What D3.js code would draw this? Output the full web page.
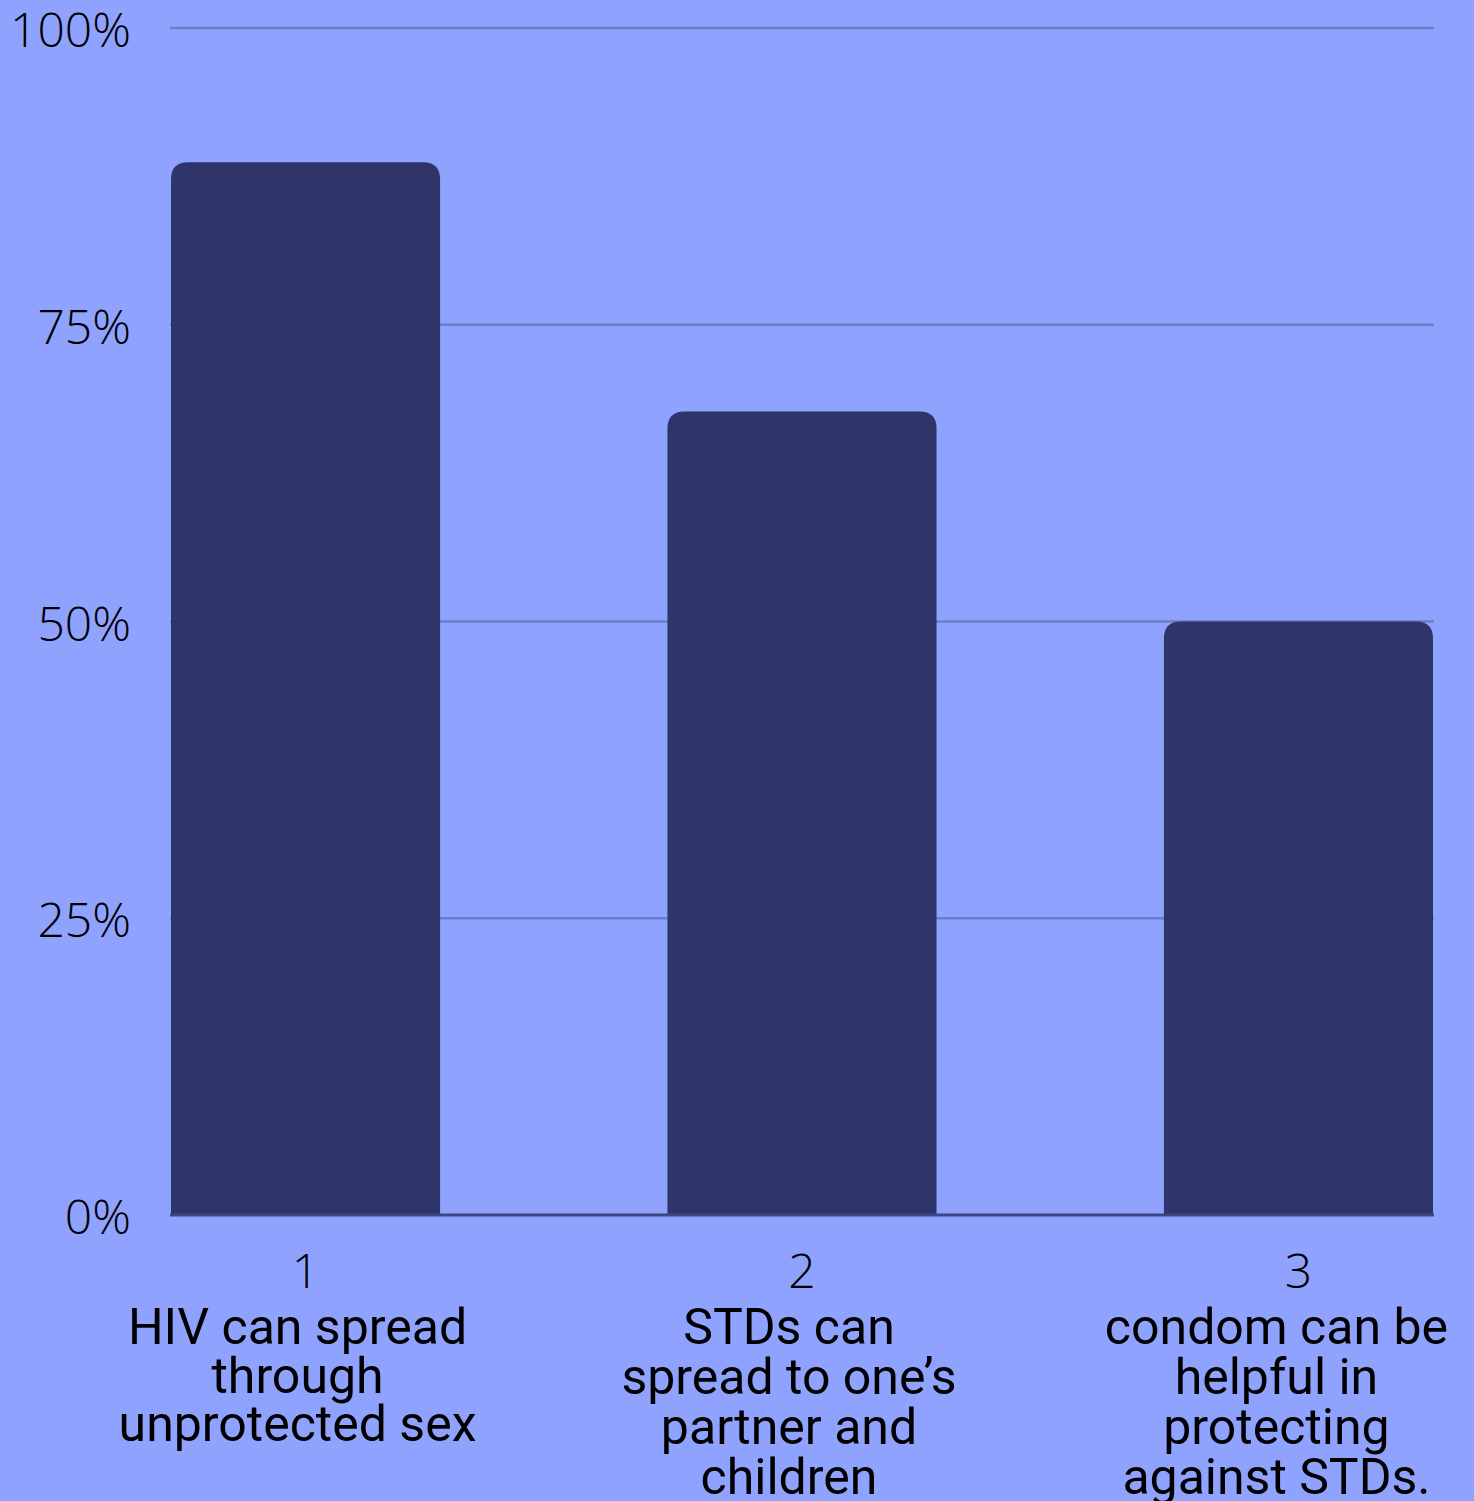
<!DOCTYPE html>
<html>
<head>
<meta charset="utf-8">
<script src="https://cdn.jsdelivr.net/npm/d3@7"></script>
<style>
  html, body { margin: 0; padding: 0; background: #8FA3FE; }
  svg { display: block; }
</style>
</head>
<body>
<svg id="chart" width="1474" height="1501"></svg>
<script>
// ---- data ----
const categories = ["1", "2", "3"];
const values = [88.7, 67.7, 50];
const labels = [
  ["HIV can spread", "through", "unprotected sex"],
  ["STDs can", "spread to one\u2019s", "partner and", "children"],
  ["condom can be", "helpful in", "protecting", "against STDs."]
];
const tickValues = [0, 25, 50, 75, 100];
const tickLabels = ["0%", "25%", "50%", "75%", "100%"];

// ---- layout / style ----
const W = 1474, H = 1501;
const plot = { left: 171, right: 1433, top: 28, bottom: 1215 };
const labelShift = [-8, -13, -22];
const colors = { bg: "#8FA3FE", bar: "#2F3469", grid: "#6E7EC6", axis: "#3C4680", text: "#000000" };

const svg = d3.select("#chart");
svg.append("rect").attr("width", W).attr("height", H).attr("fill", colors.bg);

const x = d3.scaleBand().domain(categories).range([plot.left, plot.right])
  .paddingInner(0.458).paddingOuter(0);
const y = d3.scaleLinear().domain([0, 100]).range([plot.bottom, plot.top]);

// gridlines
svg.append("g").selectAll("line").data(tickValues.filter(v => v > 0)).join("line")
  .attr("x1", plot.left - 1).attr("x2", 1434)
  .attr("y1", d => y(d)).attr("y2", d => y(d))
  .attr("stroke", colors.grid).attr("stroke-width", 2.5);

// y tick labels
svg.append("g").selectAll("text").data(tickValues).join("text")
  .attr("x", 131).attr("y", d => y(d))
  .attr("dy", "0.4em")
  .attr("text-anchor", "end")
  .attr("font-family", "'Open Sans', sans-serif")
  .attr("font-weight", 300)
  .attr("font-size", 48)
  .attr("fill", colors.text)
  .text((d, i) => tickLabels[i]);

// bars with rounded top corners
const r = 17;
function barPath(x0, w, yTop, yBase) {
  const rr = Math.min(r, w / 2, (yBase - yTop));
  return `M${x0},${yBase}V${yTop + rr}Q${x0},${yTop} ${x0 + rr},${yTop}` +
         `H${x0 + w - rr}Q${x0 + w},${yTop} ${x0 + w},${yTop + rr}V${yBase}Z`;
}
svg.append("g").selectAll("path").data(values).join("path")
  .attr("d", (d, i) => barPath(x(categories[i]), x.bandwidth(), y(d), y(0)))
  .attr("fill", colors.bar);

// baseline
svg.append("line")
  .attr("x1", plot.left - 1).attr("x2", 1434)
  .attr("y1", y(0)).attr("y2", y(0))
  .attr("stroke", colors.axis).attr("stroke-width", 3);

// category numbers
svg.append("g").selectAll("text").data(categories).join("text")
  .attr("x", d => x(d) + x.bandwidth() / 2)
  .attr("y", 1288)
  .attr("text-anchor", "middle")
  .attr("font-family", "'Open Sans', sans-serif")
  .attr("font-weight", 300)
  .attr("font-size", 48)
  .attr("fill", colors.text)
  .text(d => d);

// category labels (multi-line)
const lineH = [48.5, 50, 50];
const lg = svg.append("g").selectAll("text").data(labels).join("text")
  .attr("text-anchor", "middle")
  .attr("font-family", "Roboto, sans-serif")
  .attr("font-size", 50)
  .attr("fill", colors.text);
lg.each(function(lines, i) {
  const cx = x(categories[i]) + x.bandwidth() / 2 + labelShift[i];
  d3.select(this).selectAll("tspan").data(lines).join("tspan")
    .attr("x", cx)
    .attr("y", (d, j) => 1344 + j * lineH[i])
    .text(d => d);
});
</script>
</body>
</html>
